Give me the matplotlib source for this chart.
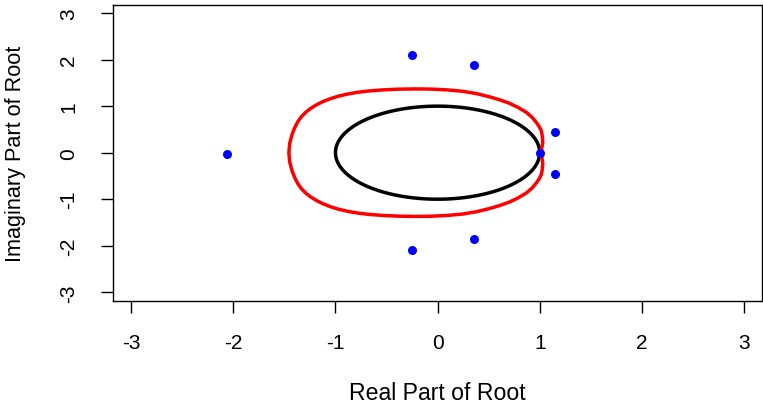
import numpy as np
import matplotlib.pyplot as plt

plt.rcParams['font.family'] = ['Liberation Sans', 'DejaVu Sans']
plt.rcParams['axes.unicode_minus'] = False

# Roots of the polynomial
root_re = [-2.06, -0.25, -0.25, 0.36, 0.36, 1.15, 1.15, 1.00]
root_im = [-0.02, 2.10, -2.09, 1.88, -1.86, 0.44, -0.46, -0.01]

# Red boundary curve (closed loop, upper half then lower half)
red_x = [1.00, 1.016, 1.03, 1.025, 1.016, 0.995, 0.967, 0.925, 0.869, 0.79, 0.705, 0.61,
         0.509, 0.38, 0.248, 0.09, -0.08, -0.22, -0.372, -0.53, -0.68, -0.79, -0.88,
         -0.97, -1.05, -1.12, -1.18, -1.24, -1.29, -1.335, -1.37, -1.40, -1.425, -1.448,
         -1.456,
         -1.448, -1.425, -1.40, -1.37, -1.335, -1.29, -1.24, -1.18, -1.12, -1.05, -0.97,
         -0.88, -0.79, -0.68, -0.53, -0.372, -0.22, -0.08, 0.09, 0.248, 0.38, 0.509, 0.61,
         0.705, 0.79, 0.869, 0.925, 0.967, 0.995, 1.016, 1.025, 1.03, 1.016, 1.00]
red_y = [0.00, 0.04, 0.22, 0.36, 0.47, 0.56, 0.65, 0.76, 0.867, 0.97, 1.06, 1.135,
         1.20, 1.27, 1.318, 1.35, 1.367, 1.37, 1.365, 1.35, 1.325, 1.295, 1.26,
         1.215, 1.16, 1.10, 1.035, 0.955, 0.87, 0.77, 0.66, 0.53, 0.39, 0.20,
         0.00,
         -0.20, -0.39, -0.53, -0.66, -0.77, -0.87, -0.955, -1.035, -1.10, -1.16, -1.215,
         -1.26, -1.295, -1.325, -1.35, -1.365, -1.37, -1.367, -1.35, -1.318, -1.27, -1.20, -1.135,
         -1.06, -0.97, -0.867, -0.76, -0.65, -0.56, -0.47, -0.36, -0.22, -0.04, 0.00]

ticks = [-3, -2, -1, 0, 1, 2, 3]

fig = plt.figure(figsize=(7.63, 4.06), dpi=100)
ax = fig.add_axes([0.1485, 0.257, 0.85, 0.729])

# unit circle
theta = np.linspace(0, 2 * np.pi, 400)
ax.plot(np.cos(theta), np.sin(theta), color='black', lw=2.5)
ax.plot(red_x, red_y, color='red', lw=2.5, solid_joinstyle='round')
ax.plot(root_re, root_im, 'o', color='blue', ms=6.5, mec='none')

ax.set_xlim(-3.175, 3.175)
ax.set_ylim(-3.18, 3.18)
ax.set_xticks(ticks)
ax.set_yticks(ticks)
ax.set_yticklabels([str(t) for t in ticks], rotation=90, va='center')
ax.tick_params(direction='out', length=8.4, width=1, labelsize=15, pad=15)
ax.tick_params(axis='y', pad=17)
for s in ax.spines.values():
    s.set_linewidth(1)

ax.set_xlabel('Real Part of Root', fontsize=16.6, labelpad=21)
ax.set_ylabel('Imaginary Part of Root', fontsize=15.6, labelpad=24)

fig.savefig('out.png', dpi=100)
